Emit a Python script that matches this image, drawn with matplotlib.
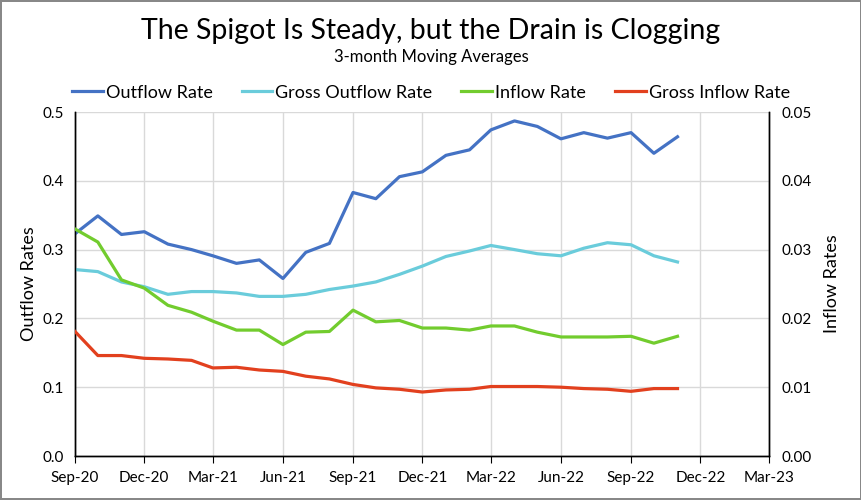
import matplotlib
matplotlib.use("Agg")
import matplotlib.pyplot as plt
import matplotlib.dates as mdates
import pandas as pd

plt.rcParams['font.family'] = ['Lato', 'DejaVu Sans']

months = pd.date_range('2020-09-01', '2022-11-01', freq='MS')

outflow = [0.323, 0.349, 0.322, 0.326, 0.308, 0.300, 0.291, 0.280, 0.285, 0.258,
           0.296, 0.309, 0.383, 0.374, 0.406, 0.413, 0.437, 0.445, 0.474, 0.487,
           0.479, 0.461, 0.470, 0.462, 0.470, 0.440, 0.464]
gross_outflow = [0.271, 0.268, 0.253, 0.246, 0.235, 0.239, 0.239, 0.237, 0.232, 0.232,
                 0.235, 0.242, 0.247, 0.253, 0.264, 0.276, 0.290, 0.298, 0.306, 0.300,
                 0.294, 0.291, 0.302, 0.310, 0.307, 0.291, 0.282]
inflow = [0.0330, 0.0311, 0.0256, 0.0244, 0.0219, 0.0209, 0.0196, 0.0183, 0.0183, 0.0162,
          0.0180, 0.0181, 0.0212, 0.0195, 0.0197, 0.0186, 0.0186, 0.0183, 0.0189, 0.0189,
          0.0180, 0.0173, 0.0173, 0.0173, 0.0174, 0.0164, 0.0174]
gross_inflow = [0.0181, 0.0146, 0.0146, 0.0142, 0.0141, 0.0139, 0.0128, 0.0129, 0.0125, 0.0123,
                0.0116, 0.0112, 0.0104, 0.0099, 0.0097, 0.0093, 0.0096, 0.0097, 0.0101, 0.0101,
                0.0101, 0.0100, 0.0098, 0.0097, 0.0094, 0.0098, 0.0098]

left_ticks = [0.0, 0.1, 0.2, 0.3, 0.4, 0.5]
right_ticks = [0.00, 0.01, 0.02, 0.03, 0.04, 0.05]
x_ticks = pd.date_range('2020-09-01', '2023-03-01', freq='3MS')

c_out = '#4472C4'
c_gout = '#6ACCDB'
c_in = '#72CC2E'
c_gin = '#E2401E'

fig = plt.figure(figsize=(8.62, 5.0), dpi=100)
fig.patch.set_edgecolor('#888888')
fig.patch.set_linewidth(1.5)
ax = fig.add_axes([0.087, 0.088, 0.805, 0.688])
ax2 = ax.twinx()

lw = 2.3
l1, = ax.plot(months, outflow, color=c_out, lw=lw, label='Outflow Rate', zorder=3)
l2, = ax.plot(months, gross_outflow, color=c_gout, lw=lw, label='Gross Outflow Rate', zorder=3)
l3, = ax2.plot(months, inflow, color=c_in, lw=lw, label='Inflow Rate', zorder=3)
l4, = ax2.plot(months, gross_inflow, color=c_gin, lw=lw, label='Gross Inflow Rate', zorder=3)

ax.set_xlim(x_ticks[0], x_ticks[-1])
ax.set_ylim(0, 0.5)
ax2.set_ylim(0, 0.05)
ax.set_yticks(left_ticks)
ax.set_yticklabels([f'{v:.1f}' for v in left_ticks])
ax2.set_yticks(right_ticks)
ax2.set_yticklabels([f'{v:.2f}' for v in right_ticks])
ax.set_xticks(x_ticks)
ax.xaxis.set_major_formatter(mdates.DateFormatter('%b-%y'))

ax.grid(True, color='#D9D9D9', lw=1.0, zorder=0)
ax.set_axisbelow(True)
for a in (ax, ax2):
    a.spines['top'].set_visible(False)
    for s in ('left', 'right', 'bottom'):
        a.spines[s].set_color('black')
        a.spines[s].set_linewidth(1.0)
ax.tick_params(axis='x', length=5, direction='out', labelsize=11, pad=6, colors='black')
ax.tick_params(axis='y', length=0, labelsize=11, pad=8)
ax2.tick_params(axis='y', length=0, labelsize=11, pad=9)

ax.set_ylabel('Outflow Rates', fontsize=13, labelpad=4)
ax2.set_ylabel('Inflow Rates', fontsize=13, labelpad=9, rotation=90)

fig.text(0.5, 0.938, 'The Spigot Is Steady, but the Drain is Clogging', ha='center', va='center', fontsize=20.5)
fig.text(0.5, 0.886, '3-month Moving Averages', ha='center', va='center', fontsize=12)

fig.legend(handles=[l1, l2, l3, l4], loc='center', bbox_to_anchor=(0.5, 0.815), ncol=4,
           frameon=False, fontsize=13, handlelength=1.7, handletextpad=0.17, columnspacing=1.6)

fig.savefig('out.png', dpi=100)
